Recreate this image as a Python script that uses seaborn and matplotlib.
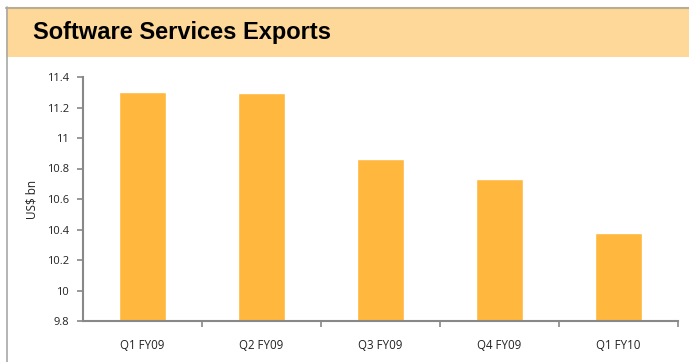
import matplotlib
matplotlib.use("Agg")
import matplotlib.pyplot as plt
from matplotlib.patches import Rectangle
from matplotlib.lines import Line2D
from matplotlib.ticker import FixedLocator
import seaborn as sns
import pandas as pd

categories = ["Q1 FY09", "Q2 FY09", "Q3 FY09", "Q4 FY09", "Q1 FY10"]
values = [11.30, 11.295, 10.86, 10.73, 10.375]
ytick_values = [9.8, 10.0, 10.2, 10.4, 10.6, 10.8, 11.0, 11.2, 11.4]
ytick_labels = ["9.8", "10", "10.2", "10.4", "10.6", "10.8", "11", "11.2", "11.4"]
title = "Software Services Exports"
ylabel = "US$ bn"

sns.set_theme(style="white")
plt.rcParams["font.family"] = ["Open Sans", "DejaVu Sans"]

W, H = 689, 362
fig = plt.figure(figsize=(W / 100, H / 100), dpi=100)
fig.patch.set_facecolor("white")

# Banner
fig.patches.append(Rectangle((6 / W, 1 - 57 / H), 1 - 6 / W, 49 / H,
                             transform=fig.transFigure, facecolor="#FDD898",
                             edgecolor="none", zorder=0))
fig.lines.append(Line2D([6 / W, 1], [1 - 7.5 / H, 1 - 7.5 / H], transform=fig.transFigure,
                        color="#B8AC94", lw=1.5))
fig.lines.append(Line2D([6.5 / W, 6.5 / W], [0, 1 - 7 / H], transform=fig.transFigure,
                        color="#A8A8A8", lw=1.2))
fig.text(33 / W, 1 - 32 / H, title, family=["Liberation Sans"], fontweight="bold",
         fontsize=17, color="black", va="center", ha="left")

ax = fig.add_axes([83 / W, (H - 321) / H, (678 - 83) / W, (321 - 77) / H])
df = pd.DataFrame({"cat": categories, "val": values})
sns.barplot(data=df, x="cat", y="val", color="#FFB83D", saturation=1, width=0.4, ax=ax)

ax.set_ylim(9.8, 11.4)
ax.set_xlim(-0.5, len(categories) - 0.5)
ax.set_yticks(ytick_values)
ax.set_yticklabels(ytick_labels)
ax.set_xlabel("")
ax.set_ylabel(ylabel, fontsize=8.5, color="#222222", labelpad=6)

for s in ["top", "right"]:
    ax.spines[s].set_visible(False)
for s in ["left", "bottom"]:
    ax.spines[s].set_color("#888888")
    ax.spines[s].set_linewidth(1.5)

ax.tick_params(axis="y", which="major", left=True, length=4, width=1.2, color="#888888",
               labelsize=8, labelcolor="#222222", pad=6)
ax.tick_params(axis="x", which="major", bottom=False, length=0, labelsize=8.3,
               labelcolor="#222222", pad=13)
ax.xaxis.set_minor_locator(FixedLocator([i + 0.5 for i in range(len(categories))]))
ax.tick_params(axis="x", which="minor", bottom=True, length=4, width=1.2, color="#888888")

fig.savefig("out.png", dpi=100)
